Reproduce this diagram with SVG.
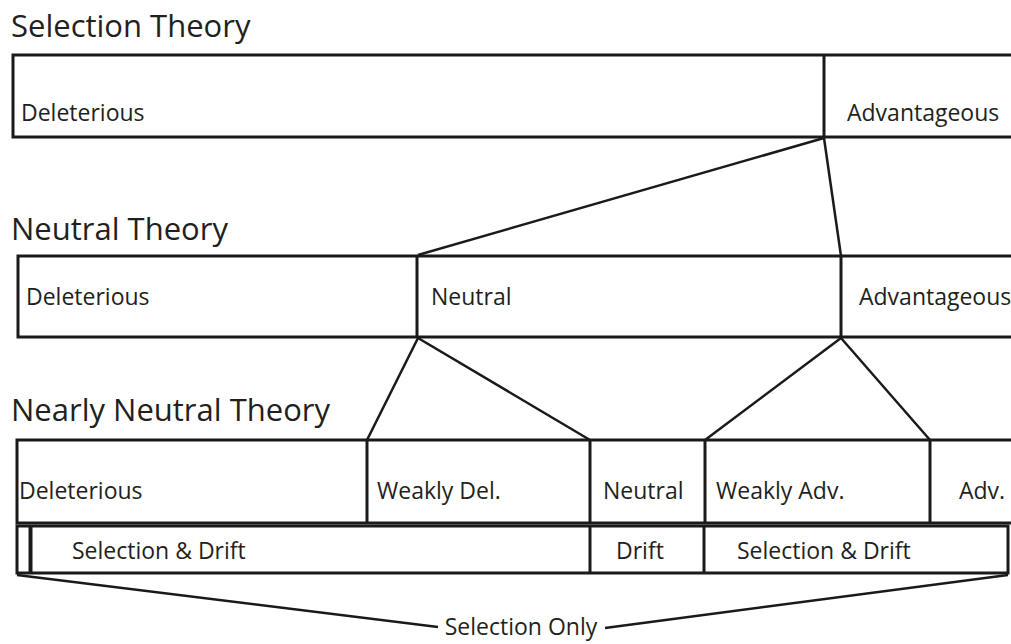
<svg xmlns="http://www.w3.org/2000/svg" width="1011" height="644" viewBox="0 0 1011 644">
<style>
.box{fill:#fff;stroke:#1a1a1a;stroke-width:3}
.div{stroke:#1a1a1a;stroke-width:3}
.con{stroke:#1a1a1a;stroke-width:2.5;fill:none}
.title{font-family:"Open Sans","Liberation Sans",sans-serif;font-size:31px;fill:#231f20}
.lab{font-family:"Open Sans","Liberation Sans",sans-serif;font-size:23px;fill:#231f20}
</style>
<rect width="1011" height="644" fill="#fff"/>
<g id="titles">
<text class="title" x="11" y="37">Selection Theory</text>
<text class="title" x="11" y="240">Neutral Theory</text>
<text class="title" x="11" y="421">Nearly Neutral Theory</text>
</g>
<g id="row1">
<rect class="box" x="13" y="55" width="1010" height="82"/>
<line class="div" x1="824" y1="55" x2="824" y2="137"/>
<text class="lab" x="21" y="121">Deleterious</text>
<text class="lab" x="847" y="121">Advantageous</text>
</g>
<g id="row2">
<rect class="box" x="18" y="256" width="1005" height="81"/>
<line class="div" x1="417" y1="256" x2="417" y2="337"/>
<line class="div" x1="841" y1="256" x2="841" y2="337"/>
<text class="lab" x="26" y="305">Deleterious</text>
<text class="lab" x="431" y="305">Neutral</text>
<text class="lab" x="859" y="305">Advantageous</text>
</g>
<g id="row3">
<rect class="box" x="17" y="440" width="1006" height="83"/>
<line class="div" x1="367" y1="440" x2="367" y2="523"/>
<line class="div" x1="590" y1="440" x2="590" y2="523"/>
<line class="div" x1="705" y1="440" x2="705" y2="523"/>
<line class="div" x1="930" y1="440" x2="930" y2="523"/>
<text class="lab" x="19" y="499">Deleterious</text>
<text class="lab" x="377" y="499">Weakly Del.</text>
<text class="lab" x="603" y="499">Neutral</text>
<text class="lab" x="716" y="499">Weakly Adv.</text>
<text class="lab" x="959" y="499">Adv.</text>
</g>
<g id="row4">
<rect class="box" x="17" y="526" width="991" height="47"/>
<line class="div" x1="30.5" y1="526" x2="30.5" y2="573" style="stroke-width:4"/>
<line class="div" x1="590" y1="526" x2="590" y2="573"/>
<line class="div" x1="704" y1="526" x2="704" y2="573"/>
<text class="lab" x="72" y="559">Selection &amp; Drift</text>
<text class="lab" x="616" y="559">Drift</text>
<text class="lab" x="737" y="559">Selection &amp; Drift</text>
</g>
<g id="connectors">
<line class="con" x1="824" y1="138" x2="418" y2="255"/>
<line class="con" x1="824" y1="138" x2="841" y2="256"/>
<line class="con" x1="418" y1="338" x2="367" y2="440"/>
<line class="con" x1="418" y1="338" x2="590" y2="440"/>
<line class="con" x1="841" y1="338" x2="705" y2="440"/>
<line class="con" x1="841" y1="338" x2="930" y2="440"/>
<line class="con" x1="17" y1="575" x2="438" y2="627"/>
<line class="con" x1="1008" y1="575" x2="605" y2="628"/>
</g>
<g id="selection-only">
<text class="lab" x="521" y="635" text-anchor="middle">Selection Only</text>
</g>
</svg>
